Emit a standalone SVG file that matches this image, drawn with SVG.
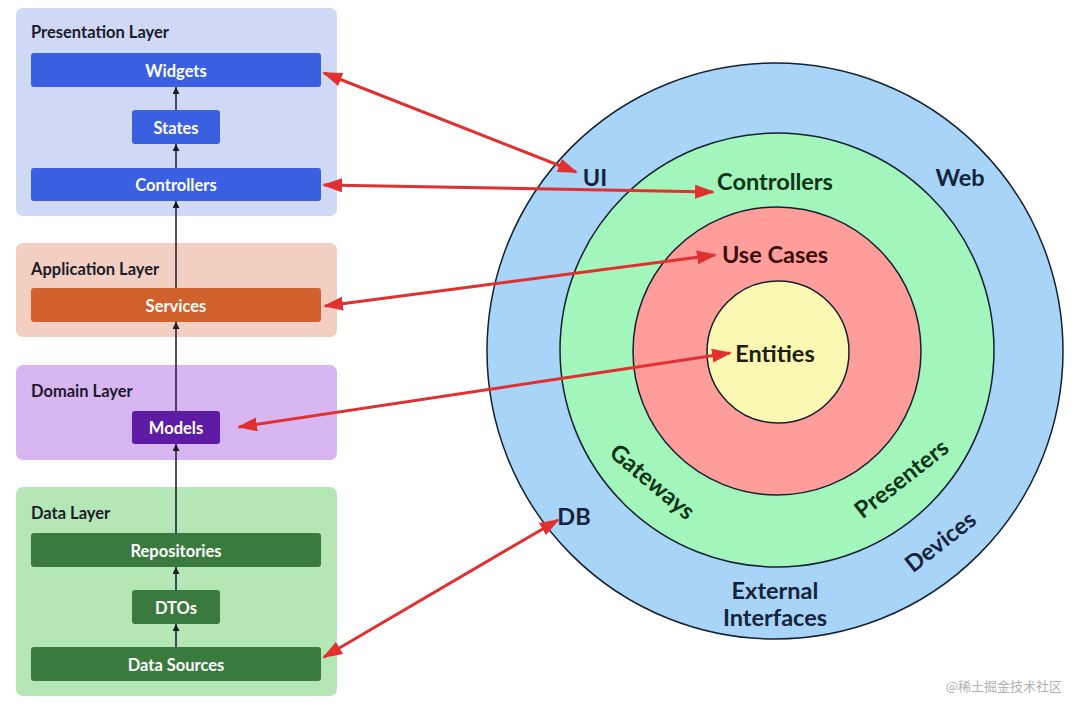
<svg xmlns="http://www.w3.org/2000/svg" width="1079" height="712" viewBox="0 0 1079 712">
<defs>
<style>
.panel-title{font-family:Lato,"Liberation Sans",sans-serif;font-size:16.5px;font-weight:700;fill:#1b1b2b}
.btn{font-family:Lato,"Liberation Sans",sans-serif;font-size:16.5px;font-weight:700;fill:#ffffff;text-anchor:middle;dominant-baseline:central}
.ring{stroke:#142030;stroke-width:1.5}
.clabel{font-family:Lato,"Liberation Sans",sans-serif;font-size:23.5px;font-weight:700;text-anchor:middle;dominant-baseline:central}
.dep{stroke:#1a1a2a;stroke-width:1.5;fill:none}
.red{stroke:#e0302f;stroke-width:3;fill:none}
</style>
<marker id="ah" viewBox="0 0 7 7" refX="7" refY="3.5" markerWidth="7" markerHeight="7" markerUnits="userSpaceOnUse" orient="auto">
<path d="M0,0 L7,3.5 L0,7 z" fill="#1a1a2a"/>
</marker>
<marker id="rh" viewBox="0 0 20 14" refX="18" refY="7" markerWidth="20" markerHeight="14" markerUnits="userSpaceOnUse" orient="auto-start-reverse">
<path d="M0,0 L20,7 L0,14 z" fill="#e0302f"/>
</marker>
</defs>
<rect width="1079" height="712" fill="#ffffff"/>

<g id="presentation-layer">
<rect x="16" y="8" width="321" height="208" rx="7" fill="#cfd8f5"/>
<text class="panel-title" x="31" y="38">Presentation Layer</text>
</g>
<g id="application-layer">
<rect x="16" y="243" width="321" height="94" rx="7" fill="#f2cfc0"/>
<text class="panel-title" x="31" y="275">Application Layer</text>
</g>
<g id="domain-layer">
<rect x="16" y="365" width="321" height="95" rx="7" fill="#d8b6f1"/>
<text class="panel-title" x="31" y="397">Domain Layer</text>
</g>
<g id="data-layer">
<rect x="16" y="487" width="321" height="209" rx="7" fill="#b4e7b5"/>
<text class="panel-title" x="31" y="519">Data Layer</text>
</g>

<g id="widgets"><rect x="31" y="53" width="290" height="34" rx="3" fill="#3a5fe0"/><text class="btn" x="176" y="71">Widgets</text></g>
<g id="states"><rect x="132" y="110" width="88" height="34" rx="3" fill="#3a5fe0"/><text class="btn" x="176" y="128">States</text></g>
<g id="controllers"><rect x="31" y="168" width="290" height="33" rx="3" fill="#3a5fe0"/><text class="btn" x="176" y="185">Controllers</text></g>
<g id="services"><rect x="31" y="288" width="290" height="34" rx="3" fill="#d1612c"/><text class="btn" x="176" y="306">Services</text></g>
<g id="models"><rect x="132" y="411" width="88" height="33" rx="3" fill="#5d1ba6"/><text class="btn" x="176" y="428">Models</text></g>
<g id="repositories"><rect x="31" y="533" width="290" height="34" rx="3" fill="#3b7a3f"/><text class="btn" x="176" y="551">Repositories</text></g>
<g id="dtos"><rect x="132" y="590" width="88" height="34" rx="3" fill="#3b7a3f"/><text class="btn" x="176" y="608">DTOs</text></g>
<g id="data-sources"><rect x="31" y="647" width="290" height="34" rx="3" fill="#3b7a3f"/><text class="btn" x="176" y="665">Data Sources</text></g>

<g id="external-interfaces">
<circle class="ring" cx="775" cy="351" r="288" fill="#a8d4f8"/>
<text class="clabel" x="595" y="177" fill="#15233b">UI</text>
<text class="clabel" x="960" y="177" fill="#15233b">Web</text>
<text class="clabel" x="574" y="516" fill="#15233b">DB</text>
<text class="clabel" x="940" y="541" fill="#15233b" transform="rotate(-38 940 541)">Devices</text>
<text class="clabel" x="775" y="590" fill="#15233b">External</text>
<text class="clabel" x="775" y="617" fill="#15233b">Interfaces</text>
</g>
<g id="interface-adapters">
<circle class="ring" cx="777" cy="350" r="217" fill="#a2f5bb"/>
<text class="clabel" x="775" y="181" fill="#0c3416">Controllers</text>
<text class="clabel" x="653" y="481" fill="#0c3416" transform="rotate(40 653 481)">Gateways</text>
<text class="clabel" x="901" y="478" fill="#0c3416" transform="rotate(-38 901 478)">Presenters</text>
</g>
<g id="use-cases">
<circle class="ring" cx="777" cy="351" r="144" fill="#fe9d99"/>
<text class="clabel" x="775" y="254" fill="#3a0c0c">Use Cases</text>
</g>
<g id="entities">
<circle class="ring" cx="778" cy="352" r="71" fill="#fbf8b4"/>
<text class="clabel" x="775" y="353" fill="#1e1e0a">Entities</text>
</g>

<g id="connectors">
<line class="dep" x1="176" y1="110" x2="176" y2="87" marker-end="url(#ah)"/>
<line class="dep" x1="176" y1="168" x2="176" y2="144" marker-end="url(#ah)"/>
<line class="dep" x1="176" y1="288" x2="176" y2="201" marker-end="url(#ah)"/>
<line class="dep" x1="176" y1="411" x2="176" y2="322" marker-end="url(#ah)"/>
<line class="dep" x1="176" y1="533" x2="176" y2="444" marker-end="url(#ah)"/>
<line class="dep" x1="176" y1="590" x2="176" y2="567" marker-end="url(#ah)"/>
<line class="dep" x1="176" y1="647" x2="176" y2="624" marker-end="url(#ah)"/>
<line class="red" x1="324" y1="73" x2="576" y2="172" marker-start="url(#rh)" marker-end="url(#rh)"/>
<line class="red" x1="324" y1="185" x2="713" y2="192" marker-start="url(#rh)" marker-end="url(#rh)"/>
<line class="red" x1="325" y1="306" x2="715" y2="255" marker-start="url(#rh)" marker-end="url(#rh)"/>
<line class="red" x1="239" y1="427" x2="730" y2="353" marker-start="url(#rh)" marker-end="url(#rh)"/>
<line class="red" x1="324" y1="657" x2="558" y2="520" marker-start="url(#rh)" marker-end="url(#rh)"/>
</g>

<text x="1062" y="691" text-anchor="end" font-family="'Noto Sans CJK SC',sans-serif" font-size="13" fill="#b0b0b0">@稀土掘金技术社区</text>
</svg>
